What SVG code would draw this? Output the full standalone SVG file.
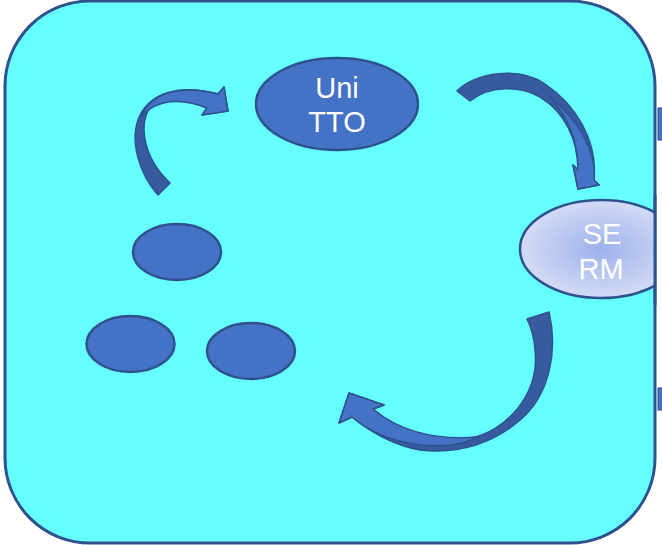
<svg xmlns="http://www.w3.org/2000/svg" width="662" height="545" viewBox="0 0 662 545">
<style>
.node{fill:#4472C4;stroke:#2F528F;stroke-width:2.5}
.lbl{font-family:"Liberation Sans",Arial,sans-serif;font-size:29px;fill:#FFFFFF;text-anchor:middle}
.dark{fill:#385B9F;stroke:#2F528F;stroke-width:1.5;stroke-linejoin:round}
.light{fill:#4472C4;stroke:#2F528F;stroke-width:1.5;stroke-linejoin:round}
</style>
<defs>
<radialGradient id="g" cx="0.5" cy="0.5" r="0.5">
<stop offset="0" stop-color="#9DB1EB"/>
<stop offset="1" stop-color="#D3DBF5"/>
</radialGradient>
<clipPath id="clip"><rect x="0" y="0" width="656" height="545"/></clipPath>
</defs>
<rect id="frame" x="5" y="1" width="650" height="542" rx="85" ry="85" fill="#66FFFF" stroke="#2F528F" stroke-width="3"/>
<rect x="658" y="108" width="6" height="32" fill="#4472C4" stroke="#2F528F" stroke-width="1"/>
<rect x="658" y="388" width="6" height="22" fill="#4472C4" stroke="#2F528F" stroke-width="1"/>
<g id="connectors">
<g id="arrow1">
<path class="dark" d="M158,195 C140,175 128,140 140,115 C152,92 180,84 218,94 L224,87 L228,111 L202,115 L207,108 C190,101 162,96 150,108 C140,120 140,155 170,183 Z"/>
<path class="light" d="M141,116 C152,93 180,84 218,94 L224,87 L228,111 L202,115 L207,108 C190,101 162,95 141,116 Z"/>
</g>
<g id="arrow2">
<path class="dark" d="M457,91 C475,72 520,66 545,84 C575,104 598,140 594,180 L599,185 L578,189 L573,165 L578,170 C578,140 565,112 540,97 C520,86 490,85 470,101 Z"/>
<path class="light" d="M548,95 C578,120 597,150 594,180 L599,185 L578,189 L573,165 L578,170 C578,142 568,116 548,95 Z"/>
</g>
<g id="arrow3">
<path class="dark" d="M527,319 L549,312 C558,350 550,395 520,420 C495,442 460,455 420,450 C395,446 370,432 352,417 L339,423 L349,393 L384,405 L373,409 C395,428 430,442 470,438 C505,432 540,395 535,350 C534,335 530,325 527,319 Z"/>
<path class="light" d="M352,417 L339,423 L349,393 L384,405 L373,409 C395,428 430,441 478,437 C450,452 390,449 352,417 Z"/>
</g>
</g>
<g id="unitto">
<ellipse class="node" cx="337" cy="104" rx="81" ry="46"/>
<text class="lbl" x="337" y="98">Uni</text>
<text class="lbl" x="337" y="132">TTO</text>
</g>
<g id="serm" clip-path="url(#clip)">
<ellipse cx="601" cy="249" rx="81" ry="49" fill="url(#g)" stroke="#2F528F" stroke-width="2.5"/>
<text class="lbl" x="602" y="244">SE</text>
<text class="lbl" x="601" y="279">RM</text>
</g>
<line x1="655" y1="195" x2="655" y2="305" stroke="#2F528F" stroke-width="3"/>
<g id="n1"><ellipse class="node" cx="177" cy="252" rx="44" ry="28"/></g>
<g id="n2"><ellipse class="node" cx="130.5" cy="344" rx="44" ry="28"/></g>
<g id="n3"><ellipse class="node" cx="251" cy="351" rx="44" ry="28"/></g>
</svg>
